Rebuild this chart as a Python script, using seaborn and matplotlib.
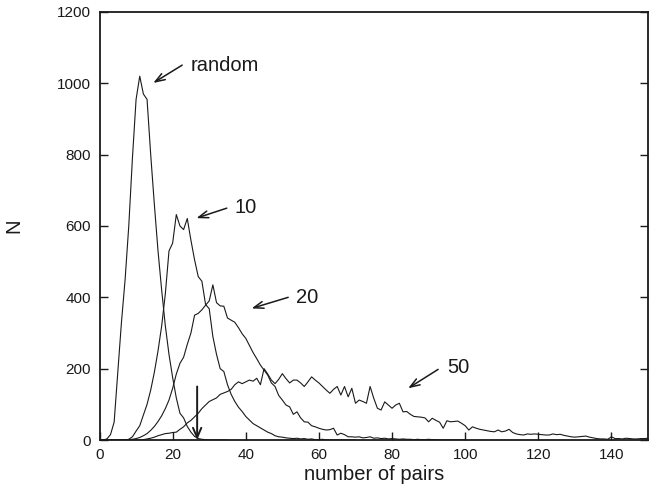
import numpy as np
import pandas as pd
import matplotlib
matplotlib.use("Agg")
import matplotlib.pyplot as plt
import seaborn as sns

# ---- data (N per number of pairs, x = 0, 1, 2, ...) ----
random_N = [0, 0, 3, 15, 50, 190, 330, 450, 600, 790, 955, 1020, 970, 955, 800,
            660, 530, 420, 320, 240, 175, 118, 75, 62, 38, 22, 10, 4, 2, 1,
            0, 0, 0, 0, 0, 0]
n10_N = [0, 0, 0, 0, 0, 0, 0, 0, 2, 9, 25, 40, 70, 100, 140,
         190, 250, 320, 410, 530, 552, 632, 600, 590, 621, 560, 505, 458, 445, 380,
         368, 290, 240, 200, 192, 155, 128, 108, 92, 80, 66, 56, 46, 40, 34,
         28, 22, 18, 12, 9, 8, 6, 5, 4, 5, 3, 4, 2, 3, 1,
         1, 2, 0, 0, 0, 0, 0, 0, 0, 0, 0]
n20_N = [0, 0, 0, 0, 0, 0, 0, 0, 1, 2, 4, 7, 12, 18, 27,
         38, 52, 68, 88, 112, 145, 185, 215, 232, 268, 300, 350, 355, 365, 378,
         390, 435, 385, 376, 375, 342, 336, 330, 315, 298, 285, 265, 245, 228, 210,
         196, 182, 160, 150, 125, 112, 98, 93, 72, 79, 62, 51, 50, 40, 37,
         33, 30, 28, 29, 33, 14, 19, 15, 9, 9, 8, 9, 6, 7, 9,
         5, 6, 4, 5, 3, 4, 3, 2, 3, 2, 2, 1, 2, 1, 1,
         2, 1, 1, 0, 0, 0, 0, 0, 0, 0, 0]
n50_N = [0, 0, 0, 0, 0, 0, 0, 0, 0, 0, 0, 0, 1, 3, 5,
         8, 12, 15, 18, 19, 21, 22, 30, 37, 48, 55, 65, 75, 88, 98,
         108, 113, 118, 128, 132, 136, 142, 155, 163, 158, 163, 168, 165, 173, 155,
         200, 185, 168, 158, 170, 186, 172, 160, 168, 168, 160, 150, 163, 177, 168,
         160, 150, 140, 131, 142, 150, 126, 150, 121, 145, 103, 112, 108, 103, 150,
         117, 89, 84, 107, 98, 89, 98, 103, 79, 80, 72, 66, 65, 64, 62,
         51, 61, 55, 50, 33, 54, 51, 52, 53, 47, 40, 28, 37, 33, 30,
         28, 26, 24, 23, 28, 23, 25, 30, 21, 17, 15, 14, 17, 16, 17,
         16, 15, 14, 14, 17, 15, 16, 13, 11, 9, 8, 9, 10, 11, 8,
         6, 4, 3, 3, 2, 9, 4, 4, 3, 5, 4, 3, 3, 4, 4, 5]

series_labels = ["random", "10", "20", "50"]
threshold_x = 26.7
threshold_top = 150

frames = []
for lab, vals in zip(series_labels, [random_N, n10_N, n20_N, n50_N]):
    frames.append(pd.DataFrame({"pairs": np.arange(len(vals)), "N": vals, "set": lab}))
df = pd.concat(frames, ignore_index=True)

sns.set_style("ticks")
plt.rcParams["font.family"] = ["Liberation Sans", "DejaVu Sans"]

fig = plt.figure(figsize=(6.56, 4.93), dpi=100)
ax = fig.add_axes([0.1517, 0.1075, 0.8361, 0.8682])

sns.lineplot(data=df, x="pairs", y="N", units="set", estimator=None,
             color="#1a1a1a", linewidth=0.8, ax=ax, legend=False)

ax.set_xlim(0, 150)
ax.set_ylim(0, 1200)
ax.set_xticks(np.arange(0, 141, 20))
ax.set_yticks(np.arange(0, 1201, 200))
ax.tick_params(direction="in", length=6, width=1.0, labelsize=11,
               right=True, top=False, colors="#1a1a1a", pad=6)
for s in ax.spines.values():
    s.set_linewidth(1.3)
    s.set_color("#1a1a1a")
    s.set_visible(True)

ax.set_xlabel("number of pairs", fontsize=14.5, color="#1a1a1a", labelpad=2)
ax.set_ylabel("N", fontsize=14.5, color="#1a1a1a", labelpad=24)

arrow_kw = dict(arrowstyle="->,head_length=0.7,head_width=0.25",
                color="#1a1a1a", lw=1.1, shrinkA=0, shrinkB=0)
notes = [
    ("random", (25.0, 1051), (22.6, 1051), (14.7, 1001)),
    ("10", (37.0, 652), (34.8, 650), (26.5, 622)),
    ("20", (53.8, 400), (51.6, 400), (41.6, 369)),
    ("50", (95.0, 203), (92.6, 198), (84.4, 145)),
]
for txt, tpos, tail, head in notes:
    ax.annotate("", xy=head, xytext=tail, arrowprops=arrow_kw)
    ax.text(tpos[0], tpos[1], txt, fontsize=14.5, color="#1a1a1a",
            ha="left", va="center")

ax.annotate("", xy=(threshold_x, 0), xytext=(threshold_x, threshold_top),
            arrowprops=dict(arrowstyle="->,head_length=0.7,head_width=0.3",
                            color="#1a1a1a", lw=1.4, shrinkA=0, shrinkB=0))

fig.savefig("out.png", dpi=100)
